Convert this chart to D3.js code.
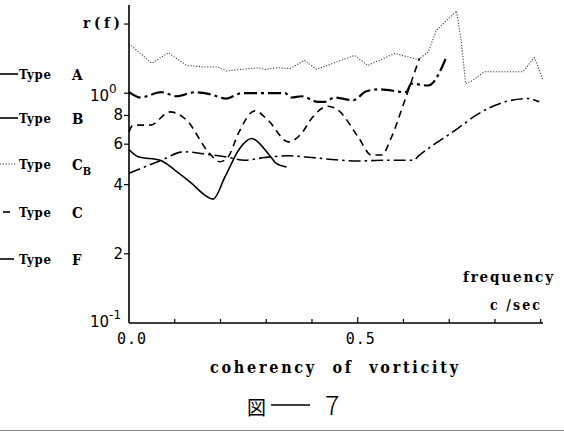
<!DOCTYPE html>
<html>
<head>
<meta charset="utf-8">
<script src="https://cdn.jsdelivr.net/npm/d3@7"></script>
<style>
  body { margin: 0; background: #fff; }
  svg { display: block; }
</style>
</head>
<body>
<div id="chart"></div>
<script>

// frequency (c/sec) and r(f), one pair of arrays per type
var freqA = [0.0, 0.020, 0.068, 0.100, 0.137, 0.166, 0.184, 0.210, 0.242, 0.268, 0.304, 0.322, 0.344];
var typeA = [0.569, 0.529, 0.511, 0.463, 0.405, 0.360, 0.346, 0.433, 0.575, 0.635, 0.547, 0.495, 0.478];

var freqB = [0.0, 0.024, 0.071, 0.104, 0.144, 0.177, 0.213, 0.246, 0.341, 0.355, 0.377, 0.413, 0.428, 0.450, 0.490, 0.519, 0.548, 0.606, 0.617, 0.654, 0.694];
var typeB = [1.01, 0.958, 1.01, 0.97, 1.01, 0.99, 0.948, 1.0, 1.0, 0.958, 0.97, 0.917, 0.917, 0.958, 0.932, 1.02, 1.04, 1.01, 1.10, 1.08, 1.44];

var freqCB = [0.0, 0.050, 0.086, 0.126, 0.166, 0.194, 0.213, 0.246, 0.282, 0.297, 0.326, 0.352, 0.384, 0.410, 0.446, 0.493, 0.522, 0.581, 0.632, 0.654, 0.672, 0.716, 0.726, 0.736, 0.752, 0.777, 0.861, 0.886, 0.905];
var typeCB = [1.64, 1.35, 1.50, 1.32, 1.30, 1.30, 1.25, 1.27, 1.29, 1.27, 1.29, 1.28, 1.39, 1.27, 1.35, 1.46, 1.32, 1.49, 1.40, 1.51, 1.88, 2.28, 1.70, 1.10, 1.14, 1.24, 1.24, 1.43, 1.14];

var freqC = [0.0, 0.009, 0.046, 0.090, 0.126, 0.173, 0.199, 0.217, 0.239, 0.275, 0.304, 0.348, 0.377, 0.399, 0.435, 0.457, 0.501, 0.530, 0.552, 0.574, 0.603, 0.635];
var typeC = [0.679, 0.726, 0.726, 0.829, 0.763, 0.556, 0.503, 0.529, 0.668, 0.838, 0.763, 0.614, 0.668, 0.776, 0.878, 0.844, 0.645, 0.538, 0.538, 0.645, 0.932, 1.42];

var freqF = [0.0, 0.071, 0.119, 0.173, 0.210, 0.253, 0.297, 0.348, 0.399, 0.443, 0.501, 0.559, 0.621, 0.635, 0.719, 0.759, 0.872, 0.897];
var typeF = [0.448, 0.511, 0.556, 0.541, 0.529, 0.511, 0.525, 0.534, 0.525, 0.515, 0.507, 0.511, 0.511, 0.538, 0.703, 0.803, 0.948, 0.917];

// legend names (letter + subscript)
var typeNames = [["A", ""], ["B", ""], ["C", "B"], ["C", ""], ["F", ""]];

// axis ticks
var xTicks = [0.0, 0.1, 0.2, 0.3, 0.4, 0.5, 0.6, 0.7, 0.8, 0.9];
var xTickLabels = ["0.0", "0.5"];
var yTicks = [0.2, 0.4, 0.6, 0.8, 1.0, 2.0];
var yTickLabels = ["2", "4", "6", "8"];

var width = 564, height = 432;
var slab = "'DejaVu Serif Condensed', 'DejaVu Serif', serif";
var mono = "'DejaVu Sans Mono', monospace";

var svg = d3.select("#chart")
  .append("svg")
    .attr("width", width)
    .attr("height", height);

var x = d3.scaleLinear()
  .domain([0, 0.905])
  .range([129, 543]);

var y = d3.scaleLog()
  .domain([0.1, 2.42])
  .range([323, 5]);

// one entry per curve: data + stroke style
var series = [
  { f: freqA,  v: typeA,  dash: null,          w: 1.6, col: "#000", curve: d3.curveMonotoneX },
  { f: freqB,  v: typeB,  dash: "13,4,3,4",    w: 2.2, col: "#000", curve: d3.curveMonotoneX },
  { f: freqCB, v: typeCB, dash: "1.2,1.6",     w: 1.1, col: "#444", curve: d3.curveLinear },
  { f: freqC,  v: typeC,  dash: "7,5",         w: 1.6, col: "#000", curve: d3.curveMonotoneX },
  { f: freqF,  v: typeF,  dash: "12,4,2.5,4",  w: 1.6, col: "#000", curve: d3.curveMonotoneX }
];

series.forEach(function(s) {
  var pts = s.f.map(function(d, i) { return [d, s.v[i]]; });
  svg.append("path")
    .datum(pts)
    .attr("fill", "none")
    .attr("stroke", s.col)
    .attr("stroke-width", s.w)
    .attr("stroke-dasharray", s.dash)
    .attr("d", d3.line()
      .curve(s.curve)
      .x(function(d) { return x(d[0]); })
      .y(function(d) { return y(d[1]); }));
});

// axes, drawn by hand so the ticks sit like the original (x ticks inside, y ticks outside)
svg.append("line")
  .attr("x1", x(0)).attr("x2", x(0))
  .attr("y1", y(2.42)).attr("y2", y(0.1))
  .attr("stroke", "#000").attr("stroke-width", 1.6);

svg.append("line")
  .attr("x1", x(0)).attr("x2", x(0.905))
  .attr("y1", y(0.1)).attr("y2", y(0.1))
  .attr("stroke", "#000").attr("stroke-width", 1.4);

svg.selectAll(".xtick")
  .data(xTicks.slice(1))
  .enter().append("line")
    .attr("x1", function(d) { return x(d); })
    .attr("x2", function(d) { return x(d); })
    .attr("y1", y(0.1))
    .attr("y2", function(d) { return y(0.1) - (d === 0.5 ? 6 : 4); })
    .attr("stroke", "#000").attr("stroke-width", 1.2);

svg.selectAll(".ytick")
  .data(yTicks)
  .enter().append("line")
    .attr("x1", x(0) - 5)
    .attr("x2", x(0))
    .attr("y1", function(d) { return y(d); })
    .attr("y2", function(d) { return y(d); })
    .attr("stroke", "#000").attr("stroke-width", 1.2);

// y tick labels 2..8 (x 10^-1)
svg.selectAll(".ylab")
  .data(yTickLabels)
  .enter().append("text")
    .attr("x", 123)
    .attr("y", function(d) { return y(+d / 10) + 5; })
    .attr("text-anchor", "end")
    .style("font-family", "'DejaVu Sans', sans-serif")
    .style("font-size", "15px")
    .text(function(d) { return d; });

// 10^0 and 10^-1
var pow = [[1.0, "0"], [0.1, "-1"]];
pow.forEach(function(p) {
  var t = svg.append("text")
    .attr("x", 90)
    .attr("y", y(p[0]) + (p[0] === 1 ? 8 : 4))
    .style("font-family", "'DejaVu Sans', sans-serif")
    .style("font-size", "15px")
    .text("10");
  t.append("tspan")
    .attr("dy", -8)
    .style("font-size", "12px")
    .text(p[1]);
});

// x tick labels
svg.selectAll(".xlab")
  .data(xTickLabels)
  .enter().append("text")
    .attr("x", function(d) { return x(+d) + 3; })
    .attr("y", 344)
    .attr("text-anchor", "middle")
    .style("font-family", mono)
    .style("font-size", "15px")
    .style("letter-spacing", "1px")
    .text(function(d) { return d; });

// typewriter-style labels, stretched to the widths measured on the scan
function label(txt, x0, y0, size, len) {
  return svg.append("text")
    .attr("x", x0).attr("y", y0)
    .attr("textLength", len)
    .attr("lengthAdjust", "spacing")
    .style("font-family", slab).style("font-weight", "bold")
    .style("font-size", size + "px")
    .style("white-space", "pre")
    .text(txt);
}

label("r(f)", 83, 28, 15, 37);
label("frequency", 463, 282, 15, 90);
label("c /sec", 490, 310, 14, 50);
label("coherency  of  vorticity", 210, 373, 16, 248);

// figure caption
svg.append("text")
  .attr("x", 247).attr("y", 415)
  .style("font-family", "'Noto Sans CJK JP', sans-serif")
  .style("font-size", "19px")
  .text("図");
svg.append("line")
  .attr("x1", 271).attr("x2", 310)
  .attr("y1", 405).attr("y2", 405)
  .attr("stroke", "#000").attr("stroke-width", 1.3);
svg.append("text")
  .attr("x", 325).attr("y", 415)
  .style("font-family", "'Noto Sans CJK JP', sans-serif")
  .style("font-weight", "300")
  .style("font-size", "27px")
  .text("7");

// legend on the left (line samples are cut off at the page edge)
var legendY = [74, 118, 164, 212, 259];
var legendLine = [[0, 18, null], [0, 18, null], [0, 16, "1.2,1.6"], [3, 10, null], [0, 14, null]];

typeNames.forEach(function(n, i) {
  var ly = legendY[i];
  svg.append("line")
    .attr("x1", legendLine[i][0]).attr("x2", legendLine[i][1])
    .attr("y1", ly).attr("y2", ly)
    .attr("stroke", i === 2 ? "#444" : "#000")
    .attr("stroke-width", i === 2 ? 1.1 : 1.6)
    .attr("stroke-dasharray", legendLine[i][2]);
  label("Type", 19, ly + 5, 13, 32);
  var t = svg.append("text")
    .attr("x", 72).attr("y", ly + 6)
    .style("font-family", slab).style("font-weight", "bold")
    .style("font-size", "15px")
    .text(n[0]);
  if (n[1]) {
    t.append("tspan")
      .attr("dy", 5)
      .style("font-size", "11px")
      .text(n[1]);
  }
});

// faint rule along the bottom of the scan
svg.append("line")
  .attr("x1", 0).attr("x2", width)
  .attr("y1", 430.5).attr("y2", 430.5)
  .attr("stroke", "#888").attr("stroke-width", 1);

</script>
</body>
</html>
